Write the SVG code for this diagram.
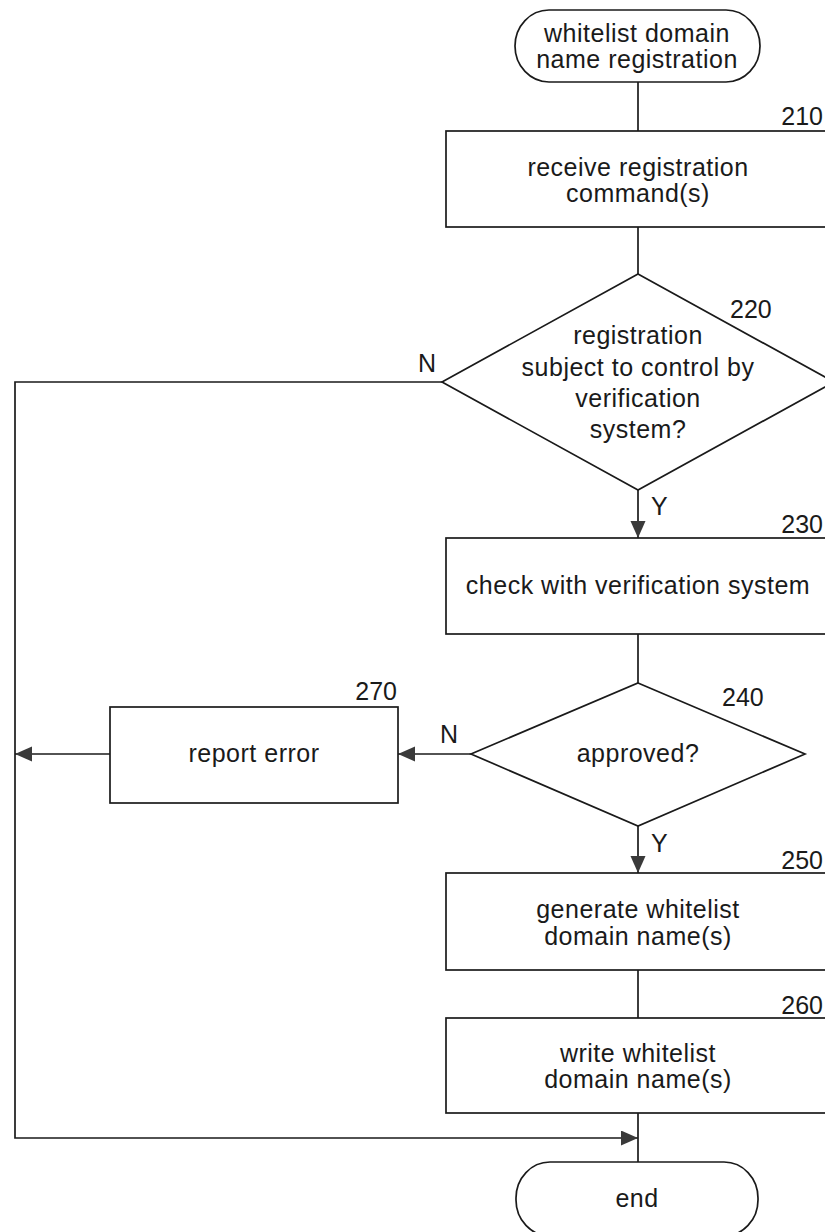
<svg xmlns="http://www.w3.org/2000/svg" width="825" height="1232" viewBox="0 0 825 1232">
  <style>
    .shape { fill: #ffffff; stroke: #1a1a1a; stroke-width: 1.7; }
    .line { fill: none; stroke: #1a1a1a; stroke-width: 1.7; }
    text { font-family: "Liberation Sans", Arial, sans-serif; font-size: 25px; fill: #1a1a1a; letter-spacing: 0.5px; }
    .c { text-anchor: middle; }
    .ref { letter-spacing: 0; }
    .edge { text-anchor: end; letter-spacing: 0; }
  </style>
  <defs>
    <marker id="arrow" markerUnits="userSpaceOnUse" markerWidth="18" markerHeight="16" refX="17" refY="7.5" orient="auto">
      <path d="M0,0 L17,7.5 L0,15 Z" fill="#3a3a3a"/>
    </marker>
  </defs>
  <rect width="825" height="1232" fill="#ffffff"/>

  <g id="connectors">
    <line class="line" x1="638" y1="82" x2="638" y2="131"/>
    <line class="line" x1="638" y1="227" x2="638" y2="274"/>
    <line class="line" x1="638" y1="490" x2="638" y2="538" marker-end="url(#arrow)"/>
    <line class="line" x1="638" y1="634" x2="638" y2="683"/>
    <line class="line" x1="638" y1="826" x2="638" y2="873" marker-end="url(#arrow)"/>
    <line class="line" x1="638" y1="970" x2="638" y2="1018"/>
    <line class="line" x1="638" y1="1113" x2="638" y2="1162"/>
    <line class="line" x1="471" y1="754" x2="398" y2="754" marker-end="url(#arrow)"/>
    <line class="line" x1="110" y1="754" x2="15" y2="754" marker-end="url(#arrow)"/>
    <polyline class="line" points="442,382 15,382 15,1138 638,1138" marker-end="url(#arrow)"/>
    <text x="418" y="372">N</text>
    <text x="651" y="515">Y</text>
    <text x="440" y="743">N</text>
    <text x="651" y="852">Y</text>
  </g>

  <g id="start">
    <rect class="shape" x="515" y="10" width="245" height="72" rx="34" ry="36"/>
    <text class="c" x="637" y="42">whitelist domain</text>
    <text class="c" x="637" y="68">name registration</text>
  </g>

  <g id="n210">
    <rect class="shape" x="446" y="131" width="385" height="96"/>
    <text class="c" x="638" y="176">receive registration</text>
    <text class="c" x="638" y="202">command(s)</text>
    <text class="edge" x="823" y="125">210</text>
  </g>

  <g id="n220">
    <polygon class="shape" points="638,274 834,382 638,490 442,382"/>
    <text class="c" x="638" y="344">registration</text>
    <text class="c" x="638" y="376">subject to control by</text>
    <text class="c" x="638" y="407">verification</text>
    <text class="c" x="638" y="438">system?</text>
    <text class="ref" x="730" y="318">220</text>
  </g>

  <g id="n230">
    <rect class="shape" x="446" y="538" width="385" height="96"/>
    <text class="c" x="638" y="594">check with verification system</text>
    <text class="edge" x="823" y="533">230</text>
  </g>

  <g id="n240">
    <polygon class="shape" points="638,683 805,754 638,826 471,754"/>
    <text class="c" x="638" y="762">approved?</text>
    <text class="ref" x="722" y="706">240</text>
  </g>

  <g id="n270">
    <rect class="shape" x="110" y="707" width="288" height="96"/>
    <text class="c" x="254" y="762">report error</text>
    <text class="edge" x="397" y="700">270</text>
  </g>

  <g id="n250">
    <rect class="shape" x="446" y="873" width="385" height="97"/>
    <text class="c" x="638" y="918">generate whitelist</text>
    <text class="c" x="638" y="945">domain name(s)</text>
    <text class="edge" x="823" y="869">250</text>
  </g>

  <g id="n260">
    <rect class="shape" x="446" y="1018" width="385" height="95"/>
    <text class="c" x="638" y="1062">write whitelist</text>
    <text class="c" x="638" y="1088">domain name(s)</text>
    <text class="edge" x="823" y="1014">260</text>
  </g>

  <g id="end">
    <rect class="shape" x="516" y="1162" width="242" height="74" rx="34" ry="36"/>
    <text class="c" x="637" y="1207">end</text>
  </g>
</svg>
